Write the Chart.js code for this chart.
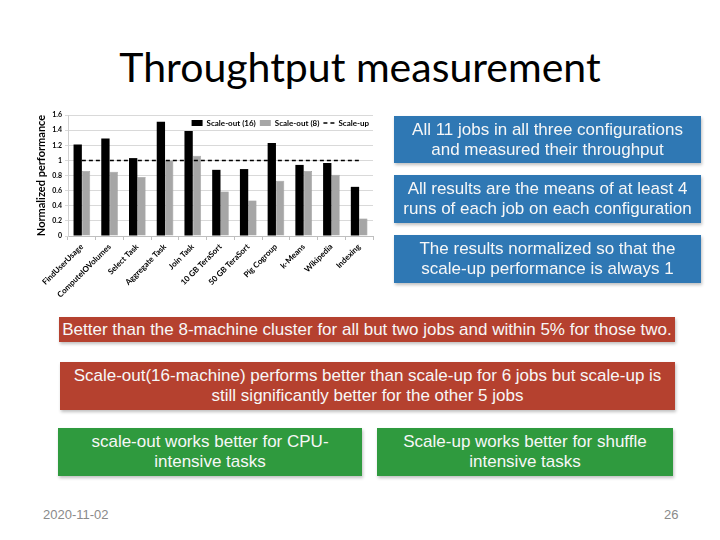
<!DOCTYPE html>
<html>
<head>
<meta charset="utf-8">
<script src="https://cdn.jsdelivr.net/npm/chart.js@4.4.0/dist/chart.umd.min.js"></script>
<style>
  html, body { margin:0; padding:0; background:#fff; }
  body { width:720px; height:540px; position:relative; overflow:hidden; font-family:"Liberation Sans", Arial, sans-serif; }
  #title { position:absolute; left:0; width:720px; top:39px; text-align:center; font-family:Lato, "Open Sans", sans-serif; font-size:41px; color:#000; line-height:56px; }
  #chartWrap { position:absolute; left:35px; top:105px; width:360px; height:195px; }
  .box { position:absolute; color:#f7f7f7; text-align:center; font-size:17px; line-height:20px; display:flex; align-items:center; justify-content:center; box-shadow:1px 2px 3px rgba(0,0,0,0.25); }
  .blue { background:#2f78b4; }
  .red { background:#b5412f; }
  .green { background:#2f9a3e; }
  .foot { position:absolute; top:507px; font-size:13px; color:#8a8a8a; font-family:"Liberation Sans", Arial, sans-serif; }
</style>
</head>
<body>
<div id="title">Throughtput measurement</div>
<div id="chartWrap"><canvas id="c" width="360" height="195"></canvas></div>

<div class="box blue" style="left:394px;top:116px;width:307px;height:47px;">All 11 jobs in all three configurations<br>and measured their throughput</div>
<div class="box blue" style="left:394px;top:175px;width:307px;height:48px;">All results are the means of at least 4<br>runs of each job on each configuration</div>
<div class="box blue" style="left:394px;top:235px;width:307px;height:48px;">The results normalized so that the<br>scale-up performance is always 1</div>

<div class="box red" style="left:59px;top:317px;width:616px;height:25px;">Better than the 8-machine cluster for all but two jobs and within 5% for those two.</div>
<div class="box red" style="left:60px;top:362px;width:615px;height:48px;">Scale-out(16-machine) performs better than scale-up for 6 jobs but scale-up is<br>still significantly better for the other 5 jobs</div>

<div class="box green" style="left:58px;top:428px;width:304px;height:48px;">scale-out works better for CPU-<br>intensive tasks</div>
<div class="box green" style="left:377px;top:428px;width:296px;height:48px;">Scale-up works better for shuffle<br>intensive tasks</div>

<div class="foot" style="left:43px;">2020-11-02</div>
<div class="foot" style="left:664px;">26</div>

<script>
const categories = ["FindUserUsage","ComputeIOVolumes","Select Task","Aggregate Task","Join Task","10 GB TeraSort","50 GB TeraSort","Pig Cogroup","k-Means","Wikipedia","Indexing"];
const scaleOut16 = [1.21, 1.29, 1.03, 1.51, 1.39, 0.875, 0.885, 1.23, 0.94, 0.965, 0.65];
const scaleOut8  = [0.86, 0.85, 0.78, 1.00, 1.06, 0.59, 0.47, 0.73, 0.86, 0.81, 0.23];
const scaleUp    = [1, 1, 1, 1, 1, 1, 1, 1, 1, 1, 1];
const seriesNames = ["Scale-out (16)", "Scale-out (8)", "Scale-up"];

const chartFont = { family: "Lato, 'Open Sans', sans-serif", weight: "bold" };

// Let the legend sit over the top of the plot area (as in the original Excel chart)
const legendOverlay = {
  id: 'legendOverlay',
  afterInit(chart) {
    const lg = chart.legend;
    if (!lg) return;
    const orig = lg.fit;
    lg.fit = function () { orig.call(this); this._realHeight = this.height; this.height = 0; };
  },
  afterLayout(chart) {
    const lg = chart.legend;
    if (!lg || lg._realHeight === undefined) return;
    lg.height = lg._realHeight;
    lg.bottom = lg.top + lg._realHeight;
  }
};

new Chart(document.getElementById('c'), {
  type: 'bar',
  data: {
    labels: categories,
    datasets: [
      { label: seriesNames[0], data: scaleOut16, backgroundColor: '#000', borderWidth: 0, order: 1,
        categoryPercentage: 0.6, barPercentage: 1.0 },
      { label: seriesNames[1], data: scaleOut8, backgroundColor: '#a6a6a6', borderColor: '#8c8c8c', borderWidth: 0.5, order: 1,
        categoryPercentage: 0.6, barPercentage: 1.0 },
      { type: 'line', label: seriesNames[2], data: scaleUp, borderColor: '#000', borderWidth: 1.5,
        borderDash: [4, 3], pointRadius: 0, fill: false, order: 0 }
    ]
  },
  plugins: [legendOverlay],
  options: {
    responsive: false,
    animation: false,
    devicePixelRatio: 1,
    layout: { padding: { top: 10, right: 22, bottom: 2, left: 0 } },
    plugins: {
      tooltip: { enabled: false },
      legend: {
        position: 'top',
        align: 'end',
        padding: 2,
        labels: {
          usePointStyle: true,
          pointStyleWidth: 11,
          boxHeight: 6,
          padding: 4,
          color: '#000',
          font: { ...chartFont, size: 8 },
          generateLabels(chart) {
            const items = Chart.defaults.plugins.legend.labels.generateLabels(chart);
            items.sort((a, b) => a.datasetIndex - b.datasetIndex);
            items.forEach(it => {
              if (it.datasetIndex === 2) {
                it.pointStyle = 'line'; it.lineDash = [4, 3]; it.strokeStyle = '#000'; it.lineWidth = 1.5;
              } else {
                it.pointStyle = 'rect'; it.lineWidth = 0;
              }
            });
            return items;
          }
        }
      }
    },
    scales: {
      x: {
        offset: true,
        grid: { display: true, offset: true, drawOnChartArea: false, tickLength: 4, color: '#bfbfbf' },
        border: { display: true, color: '#bfbfbf' },
        ticks: { maxRotation: 45, minRotation: 45, autoSkip: false, color: '#000', padding: 2,
                 font: { ...chartFont, size: 8 } },
        afterFit(scale) { scale.height = 62; }
      },
      y: {
        min: 0, max: 1.6,
        ticks: { stepSize: 0.2, color: '#000', padding: 3, font: { ...chartFont, size: 7 },
                 callback: (v) => String(Math.round(v * 10) / 10) },
        grid: { color: '#d9d9d9', drawTicks: true, tickLength: 3 },
        border: { display: true, color: '#d0d0d0' },
        title: { display: true, text: 'Normalized performance', color: '#000', padding: 0,
                 font: { ...chartFont, size: 11 } },
        afterFit(scale) { scale.width = 33; }
      }
    }
  }
});
</script>
</body>
</html>
